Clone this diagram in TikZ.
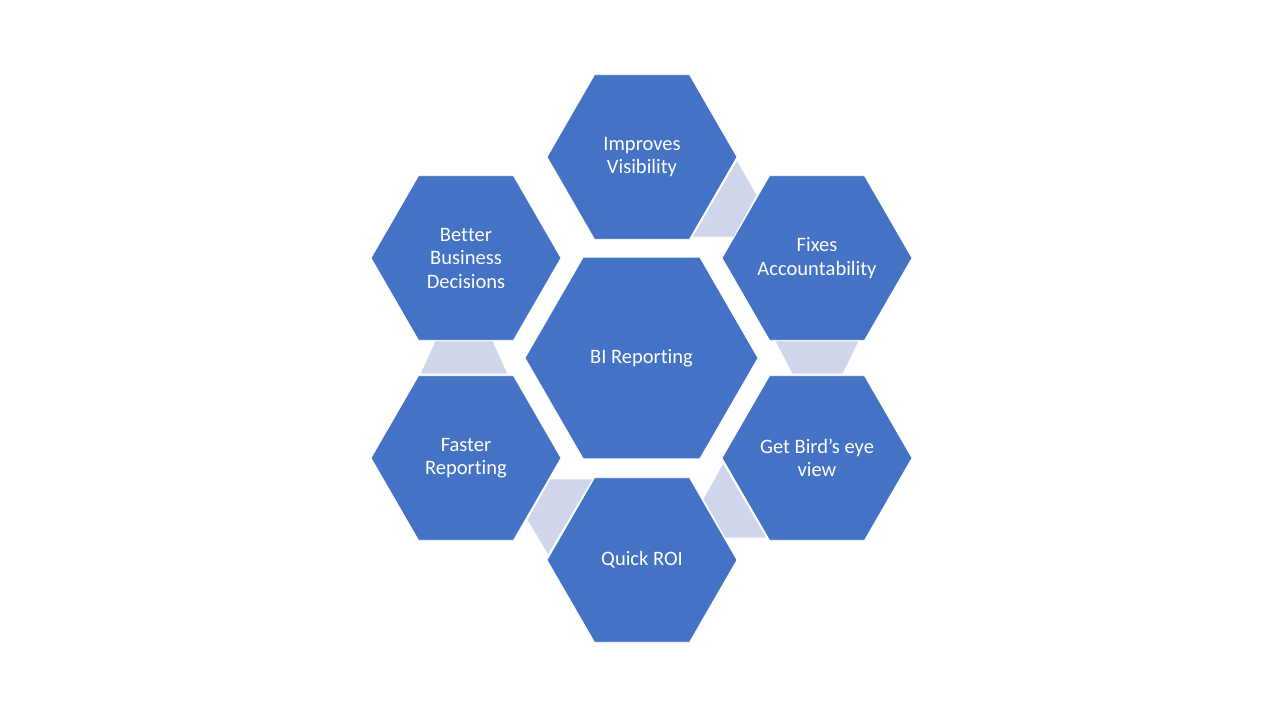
\documentclass[tikz,border=0pt]{standalone}
\usepackage{fontspec}
\setmainfont{Carlito}[RawFeature={-liga;-clig;-calt;-dlig}]
\usetikzlibrary{shapes.geometric}
\definecolor{hexblue}{HTML}{4472C4}
\definecolor{linklight}{HTML}{CFD5EA}
\tikzset{
  hexa/.style={shape=regular polygon, regular polygon sides=6, fill=hexblue, draw=white, line width=0.8pt, inner sep=0pt, minimum size=190pt},
  bighexa/.style={hexa, minimum size=233pt},
  hextext/.style={text=white, align=center, inner sep=0pt, font=\fontsize{20.5}{23.5}\selectfont},
  linkshape/.style={fill=linklight, draw=white, line width=0.8pt}
}
\begin{document}
\begin{tikzpicture}[x=1pt,y=-1pt]
\useasboundingbox (0,0) rectangle (1280,720);
% connectors (drawn first)
\path[linkshape] (737,160) -- (757,195) -- (734,237) -- (692,237) -- cycle;
\path[linkshape] (775,341) -- (859,341) -- (843,374) -- (792,374) -- cycle;
\path[linkshape] (723,463) -- (767,538) -- (725,538) -- (703,499) -- cycle;
\path[linkshape] (550,479) -- (593,479) -- (548,555) -- (527,520) -- cycle;
\path[linkshape] (435,341) -- (493,341) -- (508,374) -- (420,374) -- cycle;
% hexagons
\node[bighexa] (bi) at (641.5,358) {};
\node[hexa] (imp) at (642,157) {};
\node[hexa] (fix) at (817,258) {};
\node[hexa] (bird) at (817,458) {};
\node[hexa] (roi) at (642,560) {};
\node[hexa] (fast) at (466,458) {};
\node[hexa] (bbd) at (466,258) {};
% labels
\node[hextext] (bi-t) at (bi) {BI Repor\kern0ptting};
\node[hextext] (imp-t) at (imp) {Improves\\Visibility};
\node[hextext] (fix-t) at (fix) {Fixes\\Accoun\kern0ptt\kern0ptability};
\node[hextext] (bird-t) at (bird) {Get Bird’s eye\\view};
\node[hextext] (roi-t) at (roi) {Quick ROI};
\node[hextext] (fast-t) at (fast) {Faster\\Repor\kern0ptting};
\node[hextext] (bbd-t) at (bbd) {Bet\kern0ptter\\Business\\Decisions};
\end{tikzpicture}
\end{document}
